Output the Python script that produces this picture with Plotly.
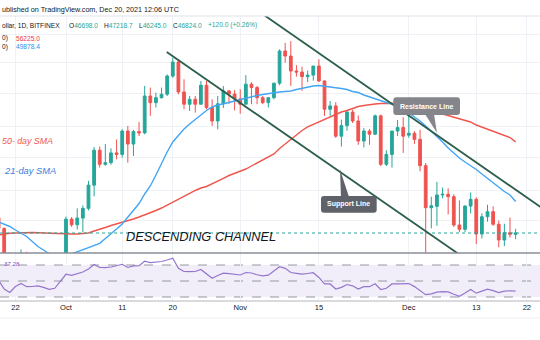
import math
import pandas as pd
import plotly.graph_objects as go

W, H = 540, 340

# ---------------- data ----------------
dates = pd.date_range("2021-09-19", "2021-12-20", freq="D")

opens = [
    48300, 47250, 42950, 40700, 43600, 44900, 42800, 42700, 43200, 42200, 41000, 41500,
    43800, 48150, 47600, 48250, 49200, 51550, 55300, 53750, 53930, 55000,
    54830, 57470, 55990, 57400, 57250, 61660, 60840, 61450, 61870, 64180,
    66020, 62160, 60650, 61250, 60650, 63010, 60240, 58640, 60700, 62290, 61900,
    61300, 60650, 63140, 62710, 61450, 60840, 61450, 63270, 67490, 66810,
    64830, 64700, 64100, 64300, 65480, 63550, 60040, 60440, 56880, 58100,
    59700, 58640, 56330, 57470, 57100, 59250, 53750, 54830, 57470, 57870,
    56990, 57220, 56520, 53600, 49265, 49400, 50540, 50610, 50370, 47580,
    47170, 49430, 50100, 46730, 48380, 48870, 47650, 46170, 46850, 46698.0,
]
highs = [
    48400, 47350, 43600, 44000, 45300, 45100, 42950, 43900, 44300, 42800, 42600, 44100,
    48400, 48350, 49200, 49500, 51990, 55650, 55700, 56000, 55500, 56500,
    57670, 58060, 57600, 58530, 62920, 62710, 62070, 62710, 64400, 66590,
    66370, 63760, 61660, 61660, 63550, 63550, 61250, 61660, 62900, 62400, 62400,
    62500, 64300, 63400, 62920, 61660, 61450, 63300, 67720, 68600, 68830,
    65600, 65400, 64900, 65500, 66370, 63600, 61040, 60900, 58800, 59900,
    60000, 59300, 57800, 57700, 59400, 59400, 55300, 57470, 58760, 59060,
    59250, 57450, 57600, 53900, 50365, 51900, 51300, 51220, 50600, 50000,
    49500, 50800, 50300, 48700, 49560, 49400, 48000, 47700, 48300, 47218.7,
]
lows = [
    46900, 42500, 39600, 40500, 43100, 40800, 41700, 40800, 42100, 40900, 40800, 41400,
    43300, 47400, 47150, 46900, 49000, 50400, 53400, 53600, 53700, 54290,
    54480, 53930, 54660, 56880, 57100, 59250, 60240, 61330, 61660, 63960,
    61870, 60040, 59830, 59630, 60650, 60040, 58060, 57670, 60200, 60700, 59900,
    59500, 60650, 60650, 60650, 60650, 60240, 61250, 63000, 65930, 62920,
    64100, 62300, 63400, 63600, 63400, 59250, 59250, 56690, 55700, 57500,
    58400, 55900, 55600, 55900, 57000, 53570, 53570, 53400, 56880, 55000,
    56690, 56000, 53000, 42000, 47265, 47500, 50200, 48600, 47400, 46900,
    46900, 48700, 45800, 46300, 47900, 47500, 45500, 45600, 46400, 46245.0,
]
closes = [
    47250, 42950, 40700, 43600, 44900, 42800, 42700, 43200, 42200, 41000, 41500, 43800,
    48150, 47600, 48250, 49200, 51550, 55300, 53750, 53930, 55000, 54830,
    57470, 55990, 57400, 57250, 61660, 60840, 61450, 61870, 64180, 66020,
    62160, 60650, 61250, 60650, 63010, 60240, 58640, 60700, 62290, 61900, 61300,
    60650, 63140, 62710, 61450, 60840, 61450, 63270, 67490, 66810, 64830,
    64700, 64100, 64300, 65480, 63550, 60040, 60440, 56880, 58100, 59700,
    58640, 56330, 57470, 57100, 59250, 53750, 54830, 57470, 57870, 56880,
    57220, 56520, 53600, 49265, 49460, 50540, 50610, 50370, 47580, 47170,
    49430, 50100, 46730, 48380, 48870, 47650, 46170, 46850, 46700, 46824.0,
]
sma50 = [
    46636, 46730, 46796, 46824, 46852, 46871, 46871, 46852, 46824, 46796, 46758, 46730,
    46730, 46730, 46730, 46758, 46824, 47012, 47154, 47344, 47535, 47678,
    47841, 47967, 48159, 48353, 48548, 48773, 48990, 49236, 49533, 49883,
    50186, 50489, 50712, 50998, 51255, 51409, 51668, 51981, 52262, 52557, 52769,
    52960, 53248, 53570, 53893, 54166, 54493, 54878, 55488, 55992, 56500,
    57070, 57532, 57938, 58228, 58522, 58816, 59111, 59409, 59708, 59888,
    60129, 60371, 60492, 60614, 60675, 60736, 60773, 60773, 60736, 60675,
    60578, 60492, 60311, 60069, 59828, 59648, 59469, 59290, 59111, 58957,
    58756, 58522, 58169, 57938, 57668, 57472, 57241, 57012, 56727, 56225.0,
]
sma21 = [
    47870, 47678, 47439, 47107, 46777, 46496, 46031, 45571, 45252, 44935, 44710, 44620,
    44710, 44890, 45070, 45270, 45470, 45663, 45856, 46309, 46730, 47202,
    47678, 48305, 49038, 49683, 50640, 51460, 52610, 53893, 55098, 56216,
    57012, 57703, 58286, 58874, 59349, 59888, 60311, 60553, 60675, 60858, 61042,
    61226, 61411, 61596, 61720, 61844, 61968, 62031, 62155, 62218, 62280,
    62468, 62619, 62783, 62909, 62973, 62909, 62846, 62695, 62594, 62468,
    62218, 62093, 61782, 61534, 61288, 61042, 60858, 60675, 60432, 60190,
    59588, 59111, 58638, 58052, 57472, 56784, 56216, 55542, 54987, 54437,
    54002, 53623, 53194, 52716, 52241, 51771, 51305, 50895, 50538, 49878.4,
]
rsi = [
    51.3, 40.0, 35.6, 43.1, 46.9, 42.9, 43.1, 44.0, 42.1, 39.6, 40.9, 49.4,
    58.4, 57.1, 58.8, 61.3, 65.0, 70.6, 66.9, 66.6, 67.5, 68.8,
    70.9, 66.9, 68.8, 69.1, 74.8, 72.9, 73.5, 74.4, 76.3, 78.4,
    65.9, 61.9, 61.6, 61.9, 64.4, 58.4, 53.4, 56.9, 59.9, 59.1, 58.4,
    57.5, 60.6, 60.0, 57.8, 56.3, 57.3, 62.1, 67.8, 65.8, 60.6,
    59.6, 58.5, 59.4, 60.4, 54.4, 46.3, 46.3, 40.0, 42.1, 45.6,
    44.0, 40.0, 42.9, 42.9, 46.5, 39.4, 40.9, 46.3, 46.5, 46.5,
    46.8, 43.0, 38.1, 32.9, 34.0, 36.0, 36.6, 36.3, 33.4, 30.9,
    35.0, 39.4, 34.8, 37.5, 39.8, 38.0, 35.6, 37.3, 37.8, 37.28,
]
tick_dates = ["2021-09-22", "2021-10-01", "2021-10-11", "2021-10-20", "2021-11-01",
              "2021-11-15", "2021-12-01", "2021-12-13", "2021-12-22"]
tick_labels = ["22", "Oct", "11", "20", "Nov", "15", "Dec", "13", "22"]
price_grid = [48000, 51000, 54500, 58000, 62000, 66000, 69800]
support_dates = ["2021-10-18 22:05", "2021-12-11 22:05"]
support_prices = [67356, 44173]
resist_dates = ["2021-11-02 15:36", "2021-12-25 05:30"]
resist_prices = [74030, 49030]
x_range = ["2021-09-19 06:09", "2021-12-24 08:10"]
price_range = [44980, 72408]
rsi_range = [25, 85]
last_close = 46824.0

# ---------------- styles ----------------
UP, DOWN = "#26a69a", "#ef5350"
BLUE, RED = "#42a5f5", "#f0554c"
TREND = "#2d5e4c"
GRID = "#eef1f6"
TXT = "#131722"
FONT = "Liberation Sans, Arial, sans-serif"


def px(x):
    return x / W


def py(y):
    return 1 - y / H


fig = go.Figure()

fig.add_trace(go.Candlestick(
    x=dates, open=opens, high=highs, low=lows, close=closes,
    increasing=dict(line=dict(color=UP, width=1), fillcolor=UP),
    decreasing=dict(line=dict(color=DOWN, width=1), fillcolor=DOWN),
    xaxis="x", yaxis="y", hoverinfo="skip"))

fig.add_trace(go.Scatter(x=dates, y=sma50, mode="lines",
                         line=dict(color=RED, width=1.4), xaxis="x", yaxis="y"))
fig.add_trace(go.Scatter(x=dates, y=sma21, mode="lines",
                         line=dict(color=BLUE, width=1.4), xaxis="x", yaxis="y"))
fig.add_trace(go.Scatter(x=x_range, y=[last_close, last_close], mode="lines",
                         line=dict(color=UP, width=1, dash="dot"), xaxis="x", yaxis="y"))
fig.add_trace(go.Scatter(x=support_dates, y=support_prices, mode="lines",
                         line=dict(color=TREND, width=1.8), xaxis="x", yaxis="y"))
fig.add_trace(go.Scatter(x=resist_dates, y=resist_prices, mode="lines",
                         line=dict(color=TREND, width=1.8), xaxis="x", yaxis="y"))

fig.add_trace(go.Scatter(x=dates, y=rsi, mode="lines",
                         line=dict(color="#9575cd", width=1.2), xaxis="x2", yaxis="y2"))

main_dom = [py(253), py(16)]
rsi_dom = [py(301), py(253)]

fig.update_layout(
    width=W, height=H, margin=dict(l=0, r=0, t=0, b=0),
    paper_bgcolor="white", plot_bgcolor="white", showlegend=False, hovermode=False,
    font=dict(family=FONT, color=TXT),
    xaxis=dict(domain=[0, 1], anchor="y", type="date", range=x_range,
               tickvals=tick_dates, showticklabels=False, showgrid=True,
               gridcolor=GRID, gridwidth=1, zeroline=False, showline=False,
               ticks="", rangeslider=dict(visible=False)),
    xaxis2=dict(domain=[0, 1], anchor="y2", type="date", range=x_range, matches="x",
                tickvals=tick_dates, ticktext=tick_labels, showgrid=True,
                gridcolor=GRID, gridwidth=1, zeroline=False, showline=False,
                ticks="", tickfont=dict(size=7.6, color=TXT, family=FONT)),
    yaxis=dict(domain=main_dom, anchor="x", type="log",
               range=[math.log10(price_range[0]), math.log10(price_range[1])],
               tickvals=price_grid, showticklabels=False, showgrid=True,
               gridcolor=GRID, gridwidth=1, zeroline=False, ticks=""),
    yaxis2=dict(domain=rsi_dom, anchor="x2", range=rsi_range, showgrid=False,
                showticklabels=False, zeroline=False, ticks=""),
)

shapes = []
# RSI band and levels
shapes.append(dict(type="rect", xref="paper", yref="y2", x0=0, x1=1, y0=30, y1=70,
                   fillcolor="rgba(126,87,194,0.10)", line=dict(width=0), layer="below"))
for lvl in (70, 50, 30):
    shapes.append(dict(type="line", xref="paper", yref="y2", x0=0, x1=1, y0=lvl, y1=lvl,
                       line=dict(color="#9598a1", width=1, dash="dash"), layer="below"))
# separators
shapes.append(dict(type="line", xref="paper", yref="paper", x0=0, x1=1, y0=py(16), y1=py(16),
                   line=dict(color="#e0e3eb", width=1)))
shapes.append(dict(type="line", xref="paper", yref="paper", x0=0, x1=1, y0=py(253), y1=py(253),
                   line=dict(color="#8b8e97", width=1.6)))
shapes.append(dict(type="line", xref="paper", yref="paper", x0=0, x1=1, y0=py(301), y1=py(301),
                   line=dict(color="#b2b5be", width=1)))
shapes.append(dict(type="line", xref="paper", yref="paper", x0=0, x1=1, y0=py(318), y1=py(318),
                   line=dict(color="#eceef2", width=1)))


def rounded_box(x0, y0, x1, y1, r):
    p = lambda x, y: f"{px(x):.5f},{py(y):.5f}"
    return (f"M {p(x0 + r, y0)} L {p(x1 - r, y0)} Q {p(x1, y0)} {p(x1, y0 + r)} "
            f"L {p(x1, y1 - r)} Q {p(x1, y1)} {p(x1 - r, y1)} L {p(x0 + r, y1)} "
            f"Q {p(x0, y1)} {p(x0, y1 - r)} L {p(x0, y0 + r)} Q {p(x0, y0)} {p(x0 + r, y0)} Z")


def tri(a, b, c):
    p = lambda q: f"{px(q[0]):.5f},{py(q[1]):.5f}"
    return f"M {p(a)} L {p(b)} L {p(c)} Z"


RES_BG = "#84868c"
SUP_BG = "#5f6269"
shapes.append(dict(type="path", xref="paper", yref="paper", path=rounded_box(393.3, 97.3, 460, 115, 3),
                   fillcolor=RES_BG, line=dict(width=0), layer="above"))
shapes.append(dict(type="path", xref="paper", yref="paper", path=tri((425, 114), (434, 114), (437, 133)),
                   fillcolor=RES_BG, line=dict(width=0), layer="above"))
shapes.append(dict(type="path", xref="paper", yref="paper", path=rounded_box(321, 196, 376.7, 212.7, 3),
                   fillcolor=SUP_BG, line=dict(width=0), layer="above"))
shapes.append(dict(type="path", xref="paper", yref="paper", path=tri((341, 197), (349, 197), (340, 169.5)),
                   fillcolor=SUP_BG, line=dict(width=0), layer="above"))
fig.update_layout(shapes=shapes)


def note(text, x, y, size, color=TXT, xanchor="left", **kw):
    fig.add_annotation(text=text, x=px(x), y=py(y), xref="paper", yref="paper",
                       xanchor=xanchor, yanchor="middle", showarrow=False,
                       font=dict(family=FONT, size=size, color=color), **kw)


# header / legend: only the portion visible in the cropped reference
note("ublished on TradingView.com, Dec 20, 2021 12:06 UTC", 0.3, 9.3, 7.2)
note("ollar, 1D, BITFINEX", 0.3, 25.3, 6.6)
note(f"O<span style='color:{UP}'>46698.0</span>", 66.7, 25.3, 6.6)
note(f"H<span style='color:{UP}'>47218.7</span>", 101.7, 25.3, 6.6)
note(f"L<span style='color:{UP}'>46245.0</span>", 136.7, 25.3, 6.6)
note(f"C<span style='color:{UP}'>46824.0</span>", 170.7, 25.3, 6.6)
note("+120.0 (+0.26%)", 206, 25.3, 6.6, color=UP)
note("0)", 0.3, 38, 6.6)
note("56225.0", 14, 38, 6.6, color="#f23645")
note("0)", 0.3, 47, 6.6)
note("49878.4", 14, 47, 6.6, color="#2196f3")
note("37.28", 2, 263, 6.2, color="#7e57c2")

note("<i>50- day SMA</i>", 0.3, 140.5, 8.8, color="#f0554c")
note("<i>21-day SMA</i>", 1.7, 170.7, 9.3, color="#3b7ddd")
note("<i>DESCENDING CHANNEL</i>", 201, 236, 12.8, color=TXT, xanchor="center")
note("<b>Resistance Line</b>", 426.7, 106.2, 7, color="white", xanchor="center")
note("<b>Support Line</b>", 348.8, 204.3, 7, color="white", xanchor="center")

fig.write_html("out.html")
